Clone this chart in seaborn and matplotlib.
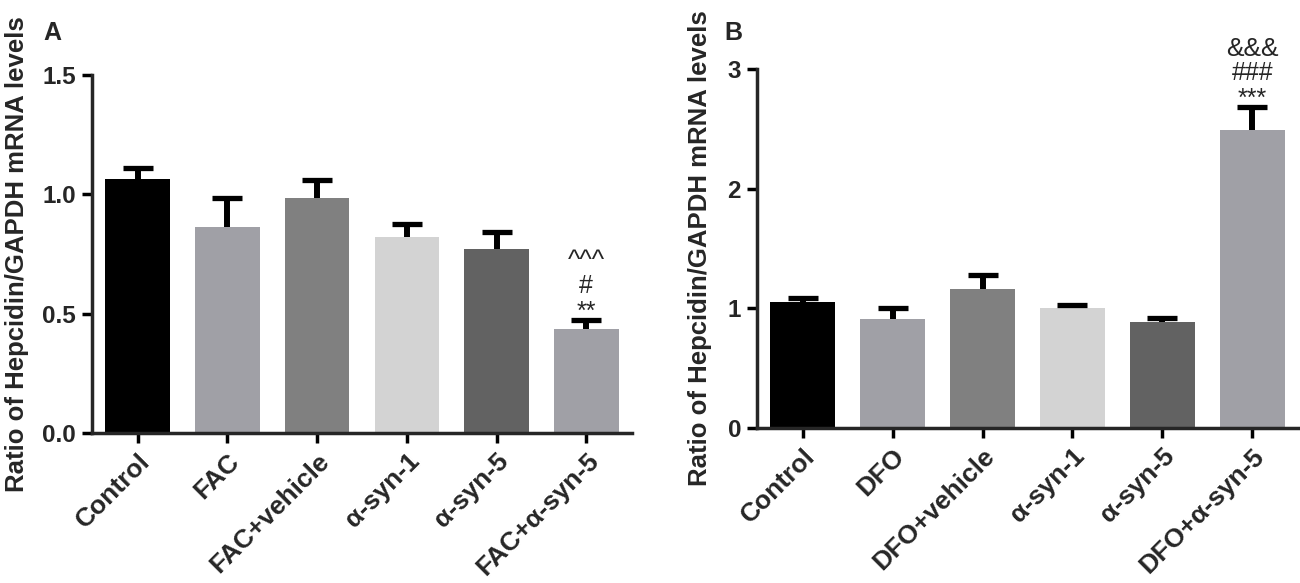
import numpy as np
import pandas as pd
import seaborn as sns
import matplotlib.pyplot as plt

# panel A data
groups_a = ["Control", "FAC", "FAC+vehicle", "α-syn-1", "α-syn-5", "FAC+α-syn-5"]
mean_a = [1.066, 0.865, 0.984, 0.823, 0.772, 0.437]
sem_a = [0.044, 0.119, 0.074, 0.054, 0.069, 0.037]
marks_a = ["**", "#", "^^^"]

# panel B data
groups_b = ["Control", "DFO", "DFO+vehicle", "α-syn-1", "α-syn-5", "DFO+α-syn-5"]
mean_b = [1.056, 0.913, 1.16, 1.0, 0.885, 2.49]
sem_b = [0.031, 0.087, 0.118, 0.025, 0.035, 0.19]
marks_b = ["***", "###", "&&&"]

bar_colors = ["#000000", "#a0a0a6", "#808080", "#d3d3d3", "#626262", "#a0a0a6"]
ylabel = "Ratio of Hepcidin/GAPDH mRNA levels"

sns.set_style("ticks")
plt.rcParams["font.family"] = ["Liberation Sans", "DejaVu Sans"]
plt.rcParams["font.weight"] = "bold"


def draw_panel(ax, groups, mean, sem, marks, ylim, yticks, ytick_labels):
    df = pd.DataFrame({"group": groups, "value": mean})
    sns.barplot(data=df, x="group", y="value", hue="group", palette=bar_colors,
                legend=False, errorbar=None, width=0.72, saturation=1,
                linewidth=0, ax=ax)
    x = np.arange(len(groups))
    # upper error bar only
    _, caps, _ = ax.errorbar(x, mean, yerr=[np.zeros(len(sem)), sem], fmt="none",
                             ecolor="black", elinewidth=4.3, capsize=11,
                             capthick=3.8)
    caps[0].set_visible(False)

    # significance marks above the last bar
    top = mean[-1] + sem[-1]
    for txt, off, fs in zip(marks, [1, 19.5, 37], [18, 18, 19]):
        ax.annotate(txt, xy=(x[-1], top), xytext=(0, off), textcoords="offset points",
                    ha="center", va="baseline", fontsize=fs, fontweight="normal")

    ax.set_ylim(*ylim)
    ax.set_xlim(-0.51, len(groups) - 0.49)
    ax.set_yticks(yticks)
    ax.set_yticklabels(ytick_labels, fontsize=17.5, fontweight="bold")
    ax.set_xticks(x)
    ax.set_xticklabels(groups, rotation=45, ha="right", rotation_mode="anchor",
                       fontsize=19, fontweight="bold")
    ax.set_xlabel("")
    ax.set_ylabel(ylabel, fontsize=18.5, fontweight="bold")
    sns.despine(ax=ax)
    for s in ["left", "bottom"]:
        ax.spines[s].set_linewidth(2.5)
    ax.tick_params(axis="both", length=7.5, width=2.5, color="black")
    ax.tick_params(axis="y", pad=4)
    ax.tick_params(axis="x", pad=4)


fig = plt.figure(figsize=(13, 5.83), dpi=100)
ax_a = fig.add_axes([0.0708, 0.2573, 0.4154, 0.6141])
ax_b = fig.add_axes([0.5823, 0.2659, 0.4162, 0.6157])

draw_panel(ax_a, groups_a, mean_a, sem_a, marks_a, (0, 1.5),
           [0, 0.5, 1.0, 1.5], ["0.0", "0.5", "1.0", "1.5"])
draw_panel(ax_b, groups_b, mean_b, sem_b, marks_b, (0, 3),
           [0, 1, 2, 3], ["0", "1", "2", "3"])

ax_a.yaxis.set_label_coords(-0.117, 0.5)
ax_b.yaxis.set_label_coords(-0.084, 0.5)

fig.text(0.040, 0.943, "A", fontsize=18, fontweight="bold", ha="center", va="center")
fig.text(0.564, 0.943, "B", fontsize=18, fontweight="bold", ha="center", va="center")

fig.savefig("out.png", dpi=100)
